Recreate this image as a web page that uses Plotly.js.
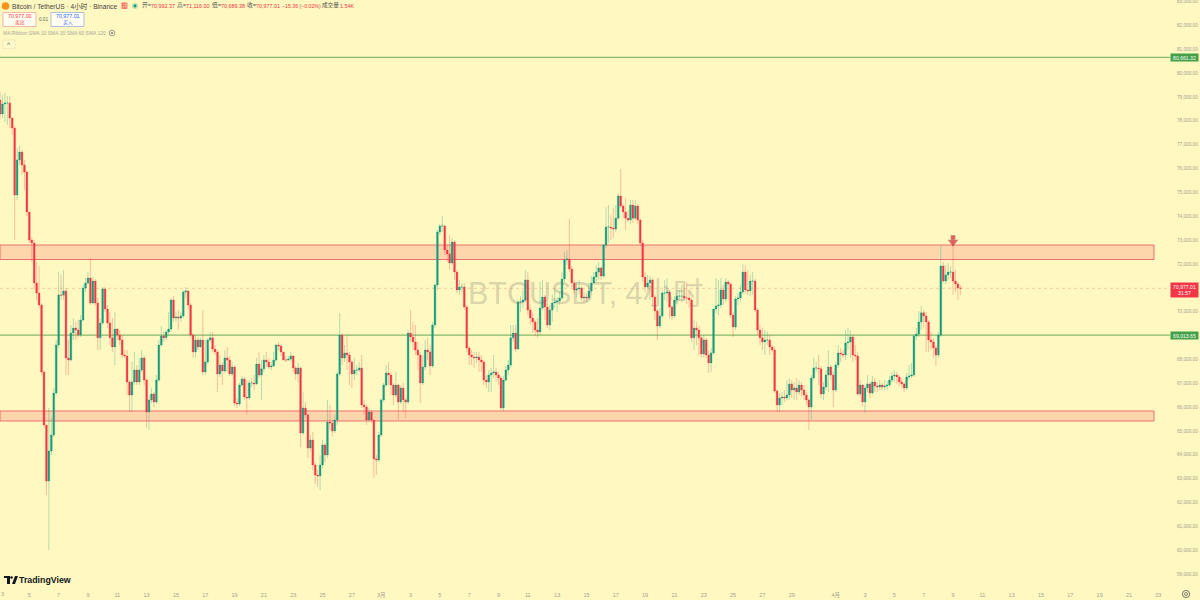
<!DOCTYPE html>
<html><head><meta charset="utf-8">
<script src="https://cdn.plot.ly/plotly-3.0.1.min.js"></script>
<style>html,body{margin:0;padding:0;background:#fff8c0;overflow:hidden}#c{width:1200px;height:600px}</style>
</head><body><div id="c"></div>
<script>
const firstOpen = 78870;
const closes = [78290,78710,78750,78750,78120,77700,74890,76360,76690,76150,75850,74180,73000,72880,71200,70780,70280,67470,65250,62900,64160,64830,66590,68600,70700,70690,70870,68060,67970,69100,
69310,69230,69020,69650,70990,71200,71410,70360,71280,70360,68900,69520,70950,70110,69520,68900,68520,69270,69020,68810,68180,68140,67050,66500,67050,67550,67050,67550,68060,67130,
65790,66300,66550,66210,67130,68600,68980,68900,69150,69270,70490,69730,69780,69730,69820,70820,70870,70280,69020,68310,68810,68520,68810,67470,67890,68810,68900,68430,68310,67390,
67760,67510,68060,67970,67390,67680,66170,66130,66920,67180,66420,66380,67010,67010,66970,67800,67340,67600,67970,67890,67680,67720,67970,68600,68560,68310,67970,67970,68010,68140,
67640,67390,67640,64910,65960,65670,64280,64620,63570,63150,63110,63570,64410,63990,65370,65330,65000,65460,67390,69020,68060,68270,68180,67890,67390,67550,67550,67640,66090,66000,
65460,65790,65460,63820,63780,64830,66300,66920,67430,67340,66920,66500,66920,66210,66800,66300,66210,69100,68940,68730,68390,68180,67010,67680,68390,68310,67720,69440,71120,73340,
73590,73590,72580,72420,72040,72920,71660,70910,71030,71030,70190,68480,68180,68100,68060,68100,67970,67890,67130,67050,67340,67430,67470,67340,67220,65960,67130,67550,67760,68900,
69100,68430,70400,70400,70490,71330,70070,69730,69570,69230,69150,70150,70610,70190,69440,70070,70360,70400,70450,70570,71370,72170,72210,71790,71200,70910,70950,70990,70570,70610,
70570,70870,71200,71450,71660,71830,71490,72790,73550,73550,73510,73460,73920,74850,74430,74180,73920,73840,74470,73920,74430,73840,72880,71450,71030,71200,71330,70610,70030,69400,
69820,70780,70780,70820,70190,69820,70490,70650,70650,70650,70570,70570,70490,68900,69310,69230,68900,68220,68810,68180,67850,68270,70110,70240,70280,70910,70530,71240,71160,69860,
69360,70530,70570,70820,71660,70910,70870,71280,71280,70070,69230,68900,68730,68810,68810,68520,68390,66670,66090,66380,66420,66380,66500,66970,66710,66800,66630,66920,66710,66500,
66300,66000,67220,67640,67640,67600,66550,66840,67340,67680,67340,66710,67760,68270,68220,68180,68690,68730,68940,68180,68140,66550,66920,66210,66800,66970,66590,67050,66880,66840,
66920,66840,66880,66920,67130,67300,67340,67260,67050,66970,66800,67260,67300,67340,68980,69060,69570,69950,69820,69570,68810,68730,68480,68180,69020,71910,71280,71540,71660,71660,
71280,71160,70992.37,70977.01];
const highs = [79210,79080,79170,79040,79040,78120,77780,76860,76950,76780,76360,75940,74180,73130,73000,72080,71910,70360,67550,65250,65960,65540,66800,68810,71660,71540,71750,70990,68810,69440,
69730,69570,69650,69860,71120,71410,71660,72250,71450,71370,70570,69730,71030,71030,70280,69980,69730,69980,69310,69230,69020,68390,68390,67130,67890,68310,67760,68060,68390,68180,
67220,66500,66800,66630,67340,68810,69400,69150,69230,69980,70570,70650,69980,70070,69980,70910,71030,70910,70360,69100,69020,68940,68900,70070,68810,68900,69150,69150,68600,68390,
68180,67890,68390,68520,68140,67890,67760,66380,67010,67300,67260,67130,67130,67220,67340,68060,68310,67970,68180,68310,68060,67890,68310,68640,68730,68640,68310,68140,68140,68310,
68180,67720,67850,67680,66630,66210,65750,64830,64950,63690,63360,63990,64620,64490,66300,66090,65460,65670,67470,69950,69100,68600,69020,68310,67970,68060,67760,67890,68180,66300,
66090,65960,65880,65460,63990,64950,66380,67010,67760,67890,67470,67010,67470,66970,66920,67010,66380,69230,70070,69570,69440,68730,68310,68180,68810,68900,68600,69570,71160,73420,
73670,74010,73630,72790,73210,73090,73000,71750,71330,71200,71200,70280,68560,68390,68310,68310,68310,68180,67970,67340,67550,67640,68180,67640,67470,67300,67300,67720,67970,69440,
69440,69440,70490,70650,70910,71750,71660,70280,69980,69650,69730,71240,71330,70700,70490,70280,70700,70990,70610,70820,71660,72500,72580,73890,71910,71330,71240,71330,71070,70820,
70780,71200,71490,71660,71950,72080,71910,72840,74380,74470,74050,74340,74470,74970,75980,74520,74770,74260,74680,74680,74680,74520,73920,73000,71660,71540,71490,71410,70700,70110,
70150,70910,71330,71410,70910,70280,70650,70910,70910,71120,70990,71240,70820,70570,69650,69570,69400,68980,69020,68900,68390,68480,70150,71410,71330,71410,71120,71410,71330,71240,
69980,70650,70780,71120,71990,71950,71750,71540,71660,71370,70150,69440,69310,69230,69150,69020,68600,68520,66750,66590,66630,66710,67130,67220,67130,67050,67220,67130,67050,66920,
66630,66380,67340,68060,67890,68180,67720,67050,67550,68390,67760,67470,67890,68600,68480,68390,69230,69310,69230,69020,68600,68310,67130,66970,66920,67340,67050,67300,67220,67050,
67130,67010,67130,67090,67300,67470,67550,67470,67340,67220,67050,67430,67760,67850,69060,69310,70020,70240,70070,69980,69650,69150,68900,68600,69150,72790,72080,71950,72040,71910,
73170,71750,71240,71116];
const lows = [78120,78120,77950,77830,77700,77410,73000,74680,76150,75730,75100,74010,72880,72080,70910,70490,70150,67340,65120,62310,60000,63990,64740,66500,68480,70490,70490,67340,67340,67890,
68810,68810,68900,68940,69570,70820,71120,70280,70320,70240,68390,68390,69440,69980,69310,68600,68310,67760,68810,68600,68060,68060,66500,65790,65790,66920,66920,66920,67470,66920,
65120,65040,66170,66000,66130,67050,68520,68730,68810,69020,69150,69570,69570,69230,69570,69730,70570,70070,68900,68060,68060,68390,68480,67340,67340,67800,68730,68310,68180,66630,
67260,66920,67430,67470,67300,67300,66040,65960,66040,66840,66300,65710,66300,66840,66710,66920,67220,66300,67470,67680,67600,67550,67680,67890,68390,68140,67970,67890,67930,67890,
67470,67130,67010,64320,64830,65540,63860,64120,63360,62770,62650,62520,63440,63690,63860,65040,64790,64910,65250,67300,67760,67890,67550,66920,66800,67130,67340,67470,65960,65670,
65250,65370,65330,63020,63150,63690,64740,66210,66840,66920,66500,66090,66420,65460,66130,65790,65540,66130,68730,68390,68180,67550,66170,66920,67550,67970,67340,67640,69310,70910,
73210,73340,72370,72080,71750,71950,71330,70780,70700,70820,70070,68310,67760,67760,67640,67850,67470,67470,66920,66800,66630,66630,67220,67050,66920,65880,65830,67050,67340,67640,
68730,68310,68390,69980,70150,70400,69860,69440,69100,68980,68900,69020,70070,69650,69310,69230,69570,70150,69980,70280,70490,71240,71950,71660,71030,70740,70610,70740,70450,70400,
70400,70490,70780,71120,71240,71330,71330,71410,72670,72880,73000,73090,73340,73840,74340,73920,73420,73760,73670,73720,73840,73670,72790,71240,70820,70910,70490,70240,69650,68810,
69310,69730,70490,70400,69730,69650,69730,70400,70490,70400,70490,70320,70150,68730,68390,68600,68180,68060,68060,68060,67430,67470,68180,69950,69860,70150,70280,70400,70490,69730,
68940,69230,70280,70400,70740,70740,70700,70650,70700,69980,69020,68600,68390,68180,68600,68180,68310,66590,65790,65790,66090,66210,66300,66300,66380,66300,66300,66500,66460,66300,
66090,65040,65460,67130,67470,66920,66380,66300,66710,66630,67130,66000,66630,67640,67890,68060,67970,68390,68060,67890,67970,66460,66460,66040,65750,66630,66380,66500,66630,66630,
66710,66710,66710,66710,66840,67010,67050,66970,66880,66800,66630,66710,67130,67220,67260,68810,68940,69230,69310,68310,68310,68390,68060,67720,68060,68940,71200,71160,71330,71410,
70700,70820,70490,70689.38];

const seriesStart = Date.UTC(2026,1,3);
const candleHours = 4;
const tickDates = ["2026-02-05","2026-02-07","2026-02-09","2026-02-11","2026-02-13","2026-02-15","2026-02-17","2026-02-19","2026-02-21","2026-02-23","2026-02-25","2026-02-27","2026-03-01","2026-03-03","2026-03-05","2026-03-07","2026-03-09","2026-03-11","2026-03-13","2026-03-15","2026-03-17","2026-03-19","2026-03-21","2026-03-23","2026-03-25","2026-03-27","2026-03-29","2026-04-01","2026-04-03","2026-04-05","2026-04-07","2026-04-09","2026-04-11","2026-04-13","2026-04-15","2026-04-17","2026-04-19","2026-04-21","2026-04-23"];
const tickLabels = ["5","7","9","11","13","15","17","19","21","23","25","27","3月","3","5","7","9","11","13","15","17","19","21","23","25","27","29","4月","3","5","7","9","11","13","15","17","19","21","23"];
const priceTicks = [59000,60000,61000,62000,63000,64000,65000,66000,67000,68000,70000,72000,73000,74000,75000,76000,77000,78000,79000,80000,81000,82000,83000];
const greenLevels = [80661.32, 69013.65];
const zones = [[72186,72794],[65415,65834]];
const lastPrice = 70977.01;
const sellPrice = "70,977.00", buyPrice = "70,977.01", spread = "0.01";
const arrowDates = ["2026-04-09 00:00","2026-04-09 00:00"], arrowPrices = [73110,72920];

const opens = [firstOpen].concat(closes.slice(0,-1));
const dates = closes.map((_,i)=>new Date(seriesStart+i*candleHours*3600e3).toISOString().slice(0,16).replace("T"," "));

const W=1170,H=588;
const px=x=>x/W, py=y=>1-y/H;
const sans='"Liberation Sans","Noto Sans CJK SC",sans-serif';
const RED='#f23645',GRN='#089981';
const note=(x,y,text,color,size,anchor,extra)=>Object.assign({xref:'paper',yref:'paper',x:px(x),y:py(y),text,showarrow:false,xanchor:anchor||'left',yanchor:'middle',font:{family:sans,size:size||6,color:color||'#555'},borderpad:0,borderwidth:0},extra||{});
const axisBox=(price,text,h,bg)=>({xref:'paper',yref:'y',x:px(1184.5),y:price,text,showarrow:false,xanchor:'center',yanchor:'middle',width:27,height:h,bgcolor:bg,font:{family:sans,size:5.1,color:'#fff'},borderpad:0});

const annotations=[
 {xref:'paper',yref:'y',x:px(585.5),y:lastPrice-180,text:'BTCUSDT, 4小时',showarrow:false,xanchor:'center',yanchor:'middle',font:{family:sans,size:30.5,color:'rgba(110,110,110,0.27)'}},
 note(12,6,'Bitcoin / TetherUS · 4小时 · Binance','#444',6.6),
 note(124.5,5.8,'账',RED,4.6,'center'),
 note(142,5.5,'开=','#555',5.8), note(151,6,'70,992.37',RED,5.4),
 note(177,5.5,'高=','#555',5.8), note(186,6,'71,116.00',RED,5.4),
 note(212,5.5,'低=','#555',5.8), note(221,6,'70,689.38',RED,5.4),
 note(247,5.5,'收=','#555',5.8), note(256,6,'70,977.01',RED,5.4),
 note(282,6,'−15.36 (−0.02%)',RED,5.2),
 note(322,5.5,'成交量','#555',5.6), note(339.5,6,'1.54K',RED,5.4),
 note(19.5,16.5,sellPrice,RED,5.3,'center'), note(19.5,22,'卖出',RED,4.8,'center'),
 note(43.5,19.5,spread,'#666',4.6,'center'),
 note(67.5,16.5,buyPrice,'#2962ff',5.3,'center'), note(67.5,22,'买入','#2962ff',4.8,'center'),
 note(3,33,'MA Ribbon SMA 10 SMA 30 SMA 60 SMA 120','#a8a8a0',5),
 note(9,44.5,'^','#555',7,'center'),
 note(19,580,'TradingView','#131722',9,'left',{font:{family:'"Liberation Sans",sans-serif',size:8.8,color:'#131722',weight:600}}),
 note(0.5,594,'3','#a5a290',5.5),
 axisBox(greenLevels[0],'80,661.32',7,'#43a047'),
 axisBox(greenLevels[1],'69,013.65',7,'#43a047'),
 axisBox(lastPrice-70,'70,977.01<br>31:57',14,RED)
];

const paperRect=(x0,y0,x1,y1,line,fill,w)=>({type:'rect',xref:'paper',yref:'paper',x0:px(x0),x1:px(x1),y0:py(y0),y1:py(y1),line:{color:line,width:w===undefined?0.8:w},fillcolor:fill||'rgba(0,0,0,0)'});
const paperCircle=(cx,cy,r,line,fill,w)=>Object.assign(paperRect(cx-r,cy-r,cx+r,cy+r,line,fill,w),{type:'circle'});
const zoneRight=px(1154);
const shapes=[
 ...zones.map(z=>({type:'rect',layer:'below',xref:'paper',yref:'y',x0:0,x1:zoneRight,y0:z[0],y1:z[1],line:{color:'rgba(235,80,95,0.8)',width:1},fillcolor:'rgba(242,54,69,0.17)'})),
 ...greenLevels.map(v=>({type:'line',layer:'below',xref:'paper',yref:'y',x0:0,x1:1,y0:v,y1:v,line:{color:'#84b868',width:1.1}})),
 {type:'line',layer:'below',xref:'paper',yref:'y',x0:0,x1:1,y0:lastPrice,y1:lastPrice,line:{color:'rgba(240,120,100,0.45)',width:0.8,dash:'dot'}},
 paperCircle(5.5,6,3.8,'#f7931a','#f7931a',0),
 paperRect(122,3,127,8.5,RED,'rgba(242,54,69,0.15)',0.6),
 paperCircle(135,6,3,'rgba(8,153,129,0.25)','rgba(8,153,129,0.25)',0),
 paperCircle(135,6,1.4,GRN,GRN,0),
 paperRect(3,12.5,36,26.5,'#ef9a9a','#fffdf0',0.7),
 paperRect(51,12.5,84,26.5,'#8fa8dd','#fffdf0',0.7),
 paperRect(3,40,15,48.5,'#e3dfb8','#fff9cc',0.6),
 paperCircle(112,33,2.8,'#777','rgba(0,0,0,0)',0.7),
 paperCircle(112,33,1,'#777','#777',0),
 paperRect(4,576,10,578,'#131722','#131722',0),
 paperRect(7,578,10,584,'#131722','#131722',0),
 paperCircle(11.5,577.5,1.3,'#131722','#131722',0),
 {type:'path',xref:'paper',yref:'paper',path:`M ${px(12)} ${py(584)} L ${px(15)} ${py(584)} L ${px(18)} ${py(576)} L ${px(15)} ${py(576)} Z`,fillcolor:'#131722',line:{width:0}},
 paperCircle(1186,594,3.6,'#555','rgba(0,0,0,0)',0.8),
 paperCircle(1186,594,1.5,'#555','rgba(0,0,0,0)',0.7)
];

const traces=[
 {type:'candlestick',x:dates,open:opens,high:highs,low:lows,close:closes,whiskerwidth:0,
  increasing:{line:{color:'rgba(8,153,129,0.5)',width:0.6},fillcolor:'#1a9c80'},
  decreasing:{line:{color:'rgba(242,54,69,0.5)',width:0.6},fillcolor:RED},hoverinfo:'skip',showlegend:false},
 {type:'scatter',mode:'markers',x:arrowDates,y:arrowPrices,marker:{symbol:['square','triangle-down'],size:[4.5,9],color:'#c9303c',line:{width:0}},hoverinfo:'skip',showlegend:false}
];

const layout={
 width:1200,height:600,autosize:false,showlegend:false,
 margin:{l:0,r:30,t:0,b:12,pad:0},boxgap:0.27,boxgroupgap:0,
 paper_bgcolor:'#fff8c0',plot_bgcolor:'#fff8c0',
 xaxis:{type:'date',range:['2026-02-03 00:00','2026-04-23 19:10'],rangeslider:{visible:false},showgrid:false,zeroline:false,showline:false,ticks:'outside',ticklen:1,tickcolor:'rgba(0,0,0,0)',tickmode:'array',tickvals:tickDates,ticktext:tickLabels,tickfont:{family:sans,size:5.5,color:'#a5a290'},ticklabeloverflow:'allow',automargin:false},
 yaxis:{side:'right',range:[58412,83067],tickmode:'array',tickvals:priceTicks,tickformat:',.2f',showgrid:false,zeroline:false,showline:false,ticks:'outside',ticklen:5,tickcolor:'rgba(0,0,0,0)',tickfont:{family:sans,size:4.7,color:'#a5a290'},ticklabeloverflow:'allow',automargin:false},
 annotations,shapes,hovermode:false,dragmode:false
};
Plotly.newPlot('c',traces,layout,{displayModeBar:false,staticPlot:true});
</script></body></html>
